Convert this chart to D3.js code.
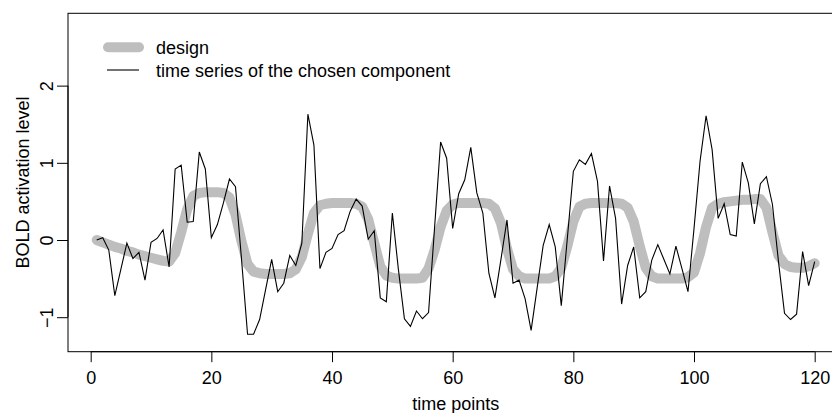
<!DOCTYPE html>
<html>
<head>
<meta charset="utf-8">
<script src="https://cdn.jsdelivr.net/npm/d3@7"></script>
<style>
  body { margin: 0; background: #fff; }
  svg { display: block; font-family: "Liberation Sans", Arial, Helvetica, sans-serif; }
</style>
</head>
<body>
<svg width="832" height="413"></svg>
<script>
// time points 1..120
var timePoints = d3.range(1, 121);

// design regressor (thick grey line)
var design = [
   0.00, -0.03, -0.06, -0.09, -0.11, -0.14, -0.16, -0.19, -0.21, -0.23,
  -0.25, -0.27, -0.28, -0.17,  0.10,  0.40,  0.57,  0.61,  0.62,  0.62,
   0.62,  0.61,  0.55,  0.33, -0.02, -0.31, -0.41, -0.43, -0.44, -0.44,
  -0.44, -0.44, -0.43, -0.38, -0.22,  0.08,  0.35,  0.45,  0.47,  0.48,
   0.48,  0.48,  0.48,  0.47,  0.43,  0.27, -0.04, -0.34, -0.46, -0.49,
  -0.50, -0.50, -0.50, -0.50, -0.49, -0.37, -0.13,  0.17,  0.38,  0.46,
   0.48,  0.48,  0.48,  0.48,  0.48,  0.47,  0.41,  0.22, -0.11, -0.38,
  -0.47, -0.50, -0.50, -0.50, -0.50, -0.50, -0.47, -0.36, -0.08,  0.24,
   0.43,  0.47,  0.48,  0.48,  0.48,  0.48,  0.48,  0.47,  0.42,  0.24,
  -0.08, -0.36, -0.47, -0.50, -0.50, -0.50, -0.50, -0.50, -0.48, -0.42,
  -0.17,  0.17,  0.42,  0.47,  0.49,  0.50,  0.51,  0.52,  0.52,  0.53,
   0.53,  0.42,  0.10, -0.20, -0.31, -0.35, -0.36, -0.36, -0.34, -0.30
];

// time series of the chosen component (thin black line)
var component = [
   0.00,  0.03, -0.13, -0.72, -0.38, -0.04, -0.24, -0.16, -0.52, -0.03,
   0.02,  0.13, -0.35,  0.92,  0.97,  0.23,  0.24,  1.14,  0.92,  0.03,
   0.20,  0.48,  0.79,  0.69, -0.25, -1.22, -1.22, -1.03, -0.64, -0.25,
  -0.67, -0.56, -0.20, -0.33, -0.04,  1.63,  1.23, -0.37, -0.16, -0.11,
   0.07,  0.12,  0.37,  0.53,  0.44,  0.01,  0.12, -0.75, -0.80,  0.35,
  -0.38, -1.02, -1.12, -0.92, -1.02, -0.94,  0.16,  1.27,  1.06,  0.15,
   0.60,  0.78,  1.20,  0.61,  0.35, -0.43, -0.75, -0.25,  0.26, -0.56,
  -0.52, -0.76, -1.17, -0.62, -0.07,  0.20, -0.09, -0.85,  0.02,  0.89,
   1.04,  0.98,  1.12,  0.76, -0.27,  0.70,  0.28, -0.83, -0.33, -0.09,
  -0.75, -0.67, -0.26, -0.06, -0.25, -0.44, -0.08, -0.37, -0.67,  0.15,
   1.02,  1.61,  1.17,  0.28,  0.47,  0.07,  0.05,  1.01,  0.74,  0.21,
   0.73,  0.82,  0.46, -0.28, -0.95, -1.03, -0.96, -0.15, -0.59, -0.28
];

var xTicks = [0, 20, 40, 60, 80, 100, 120];
var yTicks = [-1, 0, 1, 2];
var legendLabels = ["design", "time series of the chosen component"];

var svg = d3.select("svg"),
    width = +svg.attr("width"),
    height = +svg.attr("height");

// plot region (R style, 4% padding; right side runs past the picture)
var plotLeft = 68, plotRight = 843.4, plotTop = 13.3, plotBottom = 351.7;

var x = d3.scaleLinear().domain([-3.76, 124.76]).range([plotLeft, plotRight]);
var y = d3.scaleLinear().domain([-1.447, 2.937]).range([plotBottom, plotTop]);

var fontSize = 18;

svg.append("rect")
    .attr("width", width)
    .attr("height", height)
    .attr("fill", "#fff");

// design line
var line = d3.line()
    .x(function(d, i) { return x(timePoints[i]); })
    .y(function(d) { return y(d); });

svg.append("path")
    .datum(design)
    .attr("d", line)
    .attr("fill", "none")
    .attr("stroke", "#bebebe")
    .attr("stroke-width", 10)
    .attr("stroke-linecap", "round")
    .attr("stroke-linejoin", "round");

svg.append("path")
    .datum(component)
    .attr("d", line)
    .attr("fill", "none")
    .attr("stroke", "#000")
    .attr("stroke-width", 1.1)
    .attr("stroke-linejoin", "miter");

// box
svg.append("rect")
    .attr("x", plotLeft)
    .attr("y", plotTop)
    .attr("width", plotRight - plotLeft)
    .attr("height", plotBottom - plotTop)
    .attr("fill", "none")
    .attr("stroke", "#000")
    .attr("stroke-width", 1);

// x axis
var xAxis = d3.axisBottom(x)
    .tickValues(xTicks)
    .tickSize(10.5)
    .tickPadding(4)
    .tickFormat(d3.format("d"));

var gx = svg.append("g")
    .attr("transform", "translate(0," + plotBottom + ")")
    .call(xAxis);

gx.select(".domain")
    .attr("d", "M" + x(xTicks[0]) + ",0H" + x(xTicks[xTicks.length - 1]));

gx.selectAll("text")
    .attr("font-size", fontSize)
    .attr("font-family", "Liberation Sans, Arial, sans-serif")
    .attr("fill", "#000")
    .attr("dy", null)
    .attr("y", 32.6);

// y axis, labels parallel to the axis
var yAxis = d3.axisLeft(y)
    .tickValues(yTicks)
    .tickSize(11)
    .tickFormat(function(d) { return d < 0 ? "\u2212" + Math.abs(d) : d; });

var gy = svg.append("g")
    .attr("transform", "translate(" + plotLeft + ",0)")
    .call(yAxis);

gy.select(".domain")
    .attr("d", "M0," + y(yTicks[0]) + "V" + y(yTicks[yTicks.length - 1]));

gy.selectAll("text")
    .attr("font-size", fontSize)
    .attr("font-family", "Liberation Sans, Arial, sans-serif")
    .attr("fill", "#000")
    .attr("x", null)
    .attr("dy", null)
    .attr("text-anchor", "middle")
    .attr("transform", "translate(-15,0) rotate(-90)");

// axis titles
svg.append("text")
    .attr("x", (plotLeft + plotRight) / 2)
    .attr("y", 410)
    .attr("text-anchor", "middle")
    .attr("font-size", fontSize)
    .text("time points");

svg.append("text")
    .attr("transform", "translate(29.3," + (plotTop + plotBottom) / 2 + ") rotate(-90)")
    .attr("text-anchor", "middle")
    .attr("font-size", fontSize)
    .text("BOLD activation level");

// legend
var legend = svg.append("g").attr("class", "legend");

legend.append("line")
    .attr("x1", 108).attr("x2", 139)
    .attr("y1", 47.3).attr("y2", 47.3)
    .attr("stroke", "#bebebe")
    .attr("stroke-width", 10)
    .attr("stroke-linecap", "round");

legend.append("line")
    .attr("x1", 107).attr("x2", 139)
    .attr("y1", 70).attr("y2", 70)
    .attr("stroke", "#000")
    .attr("stroke-width", 1.1);

legend.selectAll("text")
    .data(legendLabels)
    .enter().append("text")
      .attr("x", 156)
      .attr("y", function(d, i) { return 54 + i * 23.3; })
      .attr("font-size", fontSize)
      .text(function(d) { return d; });
</script>
</body>
</html>
